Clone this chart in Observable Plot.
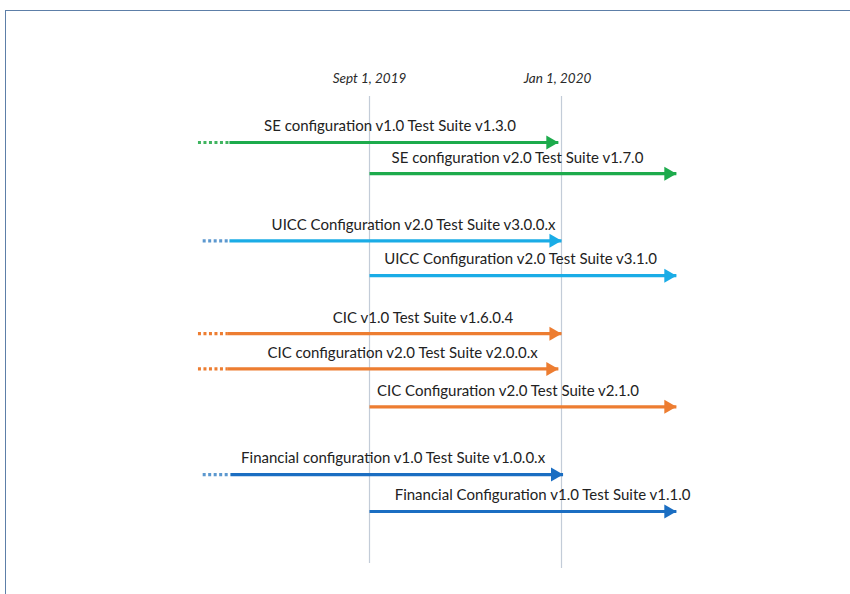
<!DOCTYPE html>
<html>
<head>
<meta charset="utf-8">
<script src="https://cdn.jsdelivr.net/npm/d3@7"></script>
<script src="https://cdn.jsdelivr.net/npm/@observablehq/plot@0.6"></script>
<style>
  html, body { margin: 0; padding: 0; background: #fff; }
  #wrap { position: relative; width: 850px; height: 594px; overflow: hidden; }
  #frame { position: absolute; left: 5px; top: 10px; width: 900px; height: 700px; border: 1.5px solid #5d7fa8; box-sizing: border-box; }
  #chart { position: absolute; left: 0; top: 0; }
</style>
</head>
<body>
<div id="wrap"><div id="frame"></div><div id="chart"></div></div>
<script>
// Milestones (vertical reference lines)
const milestoneDates = ["2019-09-01", "2020-01-01"];
const milestoneLabels = ["Sept 1, 2019", "Jan 1, 2020"];

// Test suites
const suiteNames = [
  "SE configuration v1.0 Test Suite v1.3.0",
  "SE configuration v2.0 Test Suite v1.7.0",
  "UICC Configuration v2.0 Test Suite v3.0.0.x",
  "UICC Configuration v2.0 Test Suite v3.1.0",
  "CIC v1.0 Test Suite v1.6.0.4",
  "CIC configuration v2.0 Test Suite v2.0.0.x",
  "CIC Configuration v2.0 Test Suite v2.1.0",
  "Financial configuration v1.0 Test Suite v1.0.0.x",
  "Financial Configuration v1.0 Test Suite v1.1.0"
];
const suiteGroup = ["SE", "SE", "UICC", "UICC", "CIC", "CIC", "CIC", "Financial", "Financial"];
const suiteLane = [0, 0.93, 2.93, 3.97, 5.7, 6.75, 7.88, 9.9, 11.0];
// earlier history (dotted) start, solid start, end
const historyStart = ["2019-05-15", null, "2019-05-18", null, "2019-05-15", "2019-05-15", null, "2019-05-18", null];
const solidStart = ["2019-06-04", "2019-09-01", "2019-06-04", "2019-09-01", "2019-06-03", "2019-06-03", "2019-09-01", "2019-06-05", "2019-09-01"];
const suiteEnd = ["2019-12-30", "2020-03-14", "2020-01-01", "2020-03-14", "2020-01-01", "2019-12-30", "2020-03-14", "2020-01-02", "2020-03-14"];
const labelAt = ["2019-09-14", "2019-12-04", "2019-09-29", "2019-12-06", "2019-10-05", "2019-09-22", "2019-11-28", "2019-09-16", "2019-12-20"];

const groupNames = ["SE", "UICC", "CIC", "Financial"];
const groupColors = ["#1dab4c", "#1aace6", "#ed7d31", "#1b6ec2"];
const historyColors = ["#3fb45f", "#5c98cf", "#ed7d31", "#5c98cf"];

const parse = d3.utcParse("%Y-%m-%d");
const rows = suiteNames.map((name, i) => ({
  name,
  group: suiteGroup[i],
  lane: suiteLane[i],
  h0: historyStart[i] ? parse(historyStart[i]) : null,
  s0: parse(solidStart[i]),
  s1: parse(suiteEnd[i]),
  lx: parse(labelAt[i])
}));
const history = rows.filter(d => d.h0);
const ms = milestoneDates.map((d, i) => ({date: parse(d), label: milestoneLabels[i]}));
const colorOf = g => groupColors[groupNames.indexOf(g)];
const histColorOf = g => historyColors[groupNames.indexOf(g)];

const chart = Plot.plot({
  width: 850,
  height: 594,
  margin: 0,
  x: {type: "utc", domain: [parse("2019-09-01"), parse("2020-01-01")], range: [369, 561], axis: null},
  y: {type: "linear", domain: [0, 11], range: [142, 511], axis: null},
  style: {fontFamily: "Lato, 'Open Sans', sans-serif", background: "transparent"},
  marks: [
    Plot.ruleX(ms, {x: "date", y1: -1.37, y2: (d, i) => i === 0 ? 12.55 : 12.7, stroke: "#c3ccd8", strokeWidth: 1.2}),
    Plot.text(ms.slice(0, 1), {x: "date", y: -1.9, text: "label", fontStyle: "italic", fontSize: 13.5, fill: "#2a2a2a"}),
    Plot.text(ms.slice(1), {x: "date", y: -1.9, dx: -4, text: "label", fontStyle: "italic", fontSize: 13.5, fill: "#2a2a2a"}),
    Plot.link(history, {x1: "h0", x2: "s0", y1: "lane", y2: "lane", stroke: d => histColorOf(d.group), strokeWidth: 3.2, strokeDasharray: "3,2.5"}),
    Plot.link(rows, {x1: "s0", x2: "s1", y1: "lane", y2: "lane", stroke: d => colorOf(d.group), strokeWidth: 3.2}),
    Plot.dot(rows, {x: "s1", y: "lane", symbol: "triangle", rotate: 90, r: 5.2, fill: d => colorOf(d.group), stroke: "none", dx: -8}),
    Plot.text(rows, {x: "lx", y: "lane", dy: -16, text: "name", fontSize: 15, fill: "#222"})
  ]
});
document.getElementById("chart").appendChild(chart);
</script>
</body>
</html>
